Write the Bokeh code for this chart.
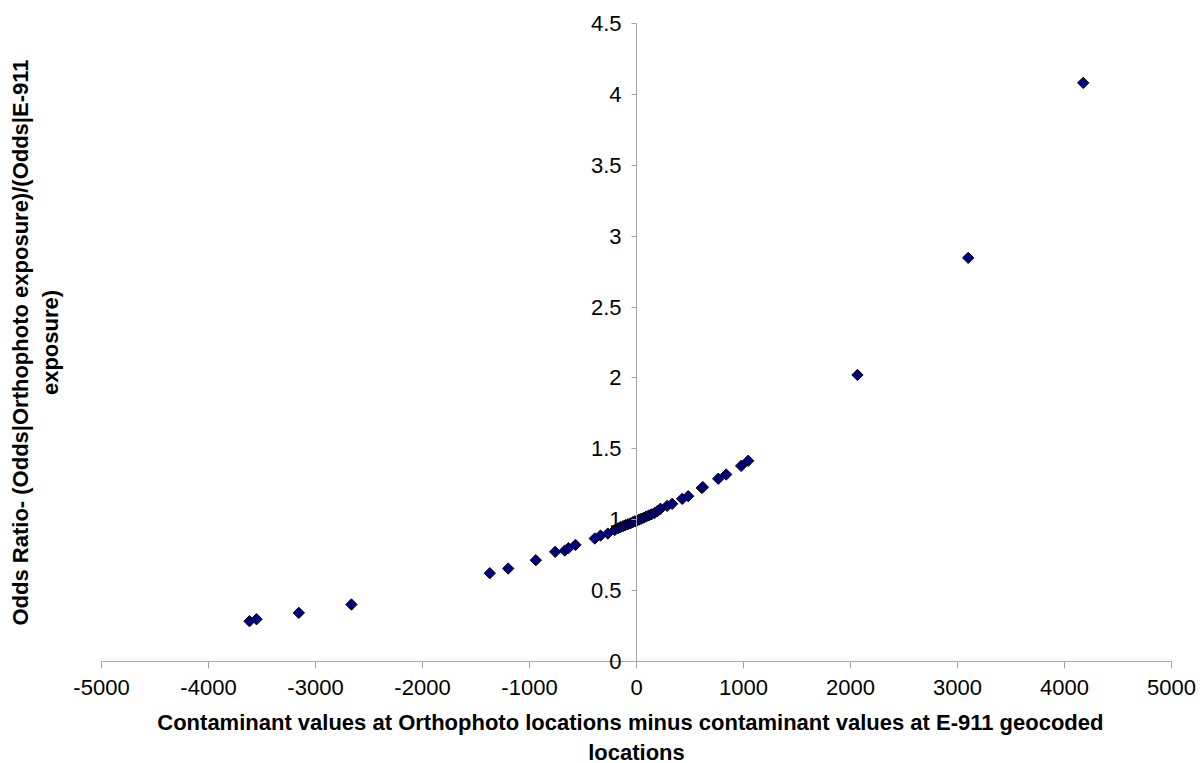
from bokeh.plotting import figure
from bokeh.models import FixedTicker, NumeralTickFormatter, ColumnDataSource, Label
from bokeh.embed import file_html
from bokeh.resources import INLINE
import math

# Differences in contaminant values (Orthophoto minus E-911 geocoded)
x_vals = [-3617, -3551, -3156, -2664, -1371, -1199, -941, -760, -670, -636,
          -570, -390, -336, -268, -203, -170, -150, -125, -103, -80,
          -56, -35, -15, 6, 25, 45, 68, 90, 115, 140,
          168, 195, 224, 287, 333, 427, 483, 610, 620, 764,
          838, 978, 1044, 2065, 3100, 4175]
# Odds ratios
y_vals = [0.281, 0.295, 0.340, 0.399, 0.620, 0.653, 0.712, 0.771, 0.780, 0.797,
          0.820, 0.865, 0.886, 0.900, 0.925, 0.938, 0.945, 0.953, 0.960, 0.966,
          0.972, 0.980, 0.987, 0.992, 0.999, 1.005, 1.012, 1.020, 1.028, 1.036,
          1.045, 1.058, 1.075, 1.096, 1.110, 1.145, 1.164, 1.222, 1.228, 1.287,
          1.317, 1.378, 1.414, 2.020, 2.847, 4.083]

x_ticks = [-5000, -4000, -3000, -2000, -1000, 0, 1000, 2000, 3000, 4000, 5000]
y_ticks = [0, 0.5, 1, 1.5, 2, 2.5, 3, 3.5, 4, 4.5]

x_title = "Contaminant  values  at Orthophoto locations minus contaminant values at E-911 geocoded\nlocations"
y_title = "Odds Ratio- (Odds|Orthophoto exposure)/(Odds|E-911\nexposure)"

FONT = "Liberation Sans"
AXIS_COLOR = "#a6a6a6"

# page geometry (pixels) of the plotting area in the reference
W, H = 1200, 763
PX_X0, PX_PER_X = 636.0, 0.107      # x = 0 at 636 px, 107 px per 1000
PX_Y0, PX_PER_Y = 660.5, 141.6      # y = 0 at 660.5 px, 141.6 px per unit

x_start = -PX_X0 / PX_PER_X
x_end = (W - PX_X0) / PX_PER_X
y_start = -(H - PX_Y0) / PX_PER_Y
y_end = PX_Y0 / PX_PER_Y

p = figure(width=W, height=H, x_range=(x_start, x_end), y_range=(y_start, y_end),
           output_backend="svg", toolbar_location=None,
           min_border_left=0, min_border_right=0, min_border_top=0, min_border_bottom=0)
p.xgrid.visible = False
p.ygrid.visible = False
p.outline_line_color = None
p.background_fill_color = "white"
p.border_fill_color = "white"

src = ColumnDataSource(dict(x=x_vals, y=y_vals))
p.scatter("x", "y", source=src, marker="square", size=8, angle=math.pi / 4,
          fill_color="#000080", line_color="black", line_width=1)

# x axis crossing at y = 0
xa = p.xaxis[0]
xa.fixed_location = 0
xa.bounds = (x_ticks[0], x_ticks[-1])
xa.ticker = FixedTicker(ticks=x_ticks)
xa.formatter = NumeralTickFormatter(format="0")
xa.axis_line_color = AXIS_COLOR
xa.major_tick_line_color = AXIS_COLOR
xa.major_tick_out = 7
xa.major_tick_in = 0
xa.minor_tick_line_color = None
xa.major_label_text_font = FONT
xa.major_label_text_font_size = "22px"
xa.major_label_text_color = "black"
xa.major_label_standoff = 12
xa.axis_label = x_title
xa.axis_label_text_font = FONT
xa.axis_label_text_font_size = "22px"
xa.axis_label_text_font_style = "bold"
xa.axis_label_text_color = "black"
xa.axis_label_text_line_height = 1.2
xa.axis_label_standoff = 11

# y axis crossing at x = 0
ya = p.yaxis[0]
ya.fixed_location = 0
ya.bounds = (y_ticks[0], y_ticks[-1])
ya.ticker = FixedTicker(ticks=y_ticks)
ya.formatter = NumeralTickFormatter(format="0.[0]")
ya.axis_line_color = AXIS_COLOR
ya.major_tick_line_color = AXIS_COLOR
ya.major_tick_out = 5
ya.major_tick_in = 0
ya.minor_tick_line_color = None
ya.major_label_text_font = FONT
ya.major_label_text_font_size = "22px"
ya.major_label_text_color = "black"
ya.major_label_standoff = 10

# y title, rotated, centred on the y span of the axis
y_lab = Label(x=(34.5 - PX_X0) / PX_PER_X, y=(PX_Y0 - 342.0) / PX_PER_Y,
              text=y_title, angle=math.pi / 2,
              text_align="center", text_baseline="middle",
              text_font=FONT, text_font_size="22px", text_font_style="bold",
              text_color="black", text_line_height=1.2)
p.add_layout(y_lab)

open("out.html", "w").write(file_html(p, INLINE))
